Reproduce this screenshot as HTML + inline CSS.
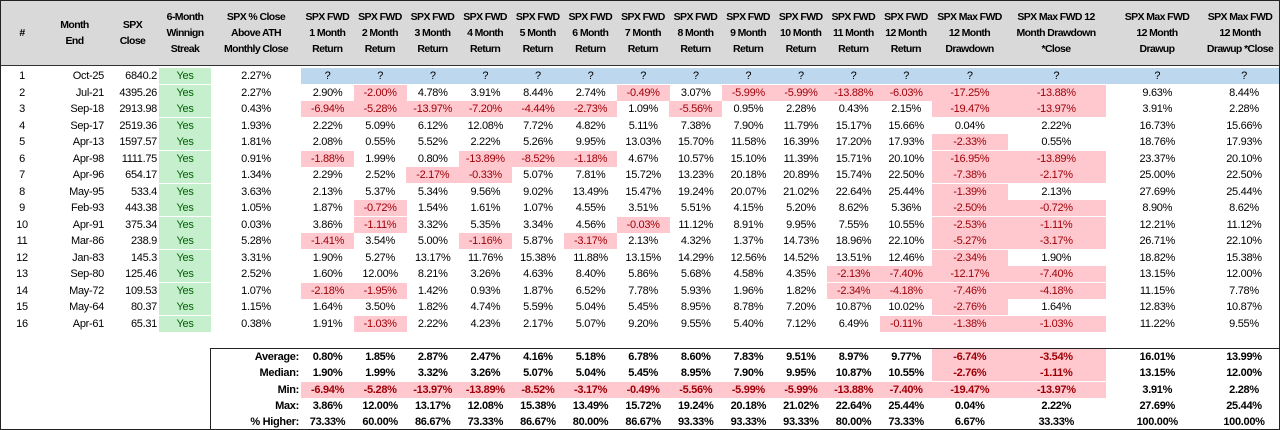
<!DOCTYPE html>
<html><head><meta charset="utf-8"><style>
body{margin:0;background:#fff;}
#wrap{position:relative;width:1278px;height:428px;border:1px solid #222;overflow:hidden;font-family:"Liberation Sans",sans-serif;font-size:11px;color:#000;letter-spacing:-0.3px;}
#hdr{position:absolute;left:0;top:0;width:1278px;height:64px;background:#d9d9d9;border-bottom:1px solid #333;}
.c{position:absolute;white-space:nowrap;line-height:16px;height:16px;}
.h{position:absolute;display:flex;align-items:center;justify-content:center;text-align:center;font-weight:bold;line-height:16px;height:64px;top:0;white-space:nowrap;letter-spacing:-0.6px;font-size:10.5px;}
.pk{background:#ffc7ce;color:#9c0006;}
.gr{background:#c6efce;color:#006100;}
#box{position:absolute;left:209px;top:347px;width:1070px;height:82px;border:1px solid #222;box-sizing:border-box;}
</style></head><body>
<div id="wrap">
<div id="hdr"></div>
<div id="box"></div>
</div>
<script>
const headers=["#","Month<br>End","SPX<br>Close","6-Month<br>Winnign<br>Streak","SPX % Close<br>Above ATH<br>Monthly Close","SPX FWD<br>1 Month<br>Return","SPX FWD<br>2 Month<br>Return","SPX FWD<br>3 Month<br>Return","SPX FWD<br>4 Month<br>Return","SPX FWD<br>5 Month<br>Return","SPX FWD<br>6 Month<br>Return","SPX FWD<br>7 Month<br>Return","SPX FWD<br>8 Month<br>Return","SPX FWD<br>9 Month<br>Return","SPX FWD<br>10 Month<br>Return","SPX FWD<br>11 Month<br>Return","SPX FWD<br>12 Month<br>Return","SPX Max FWD<br>12 Month<br>Drawdown","SPX Max FWD 12<br>Month Drawdown<br>*Close","SPX Max FWD<br>12 Month<br>Drawup","SPX Max FWD<br>12 Month<br>Drawup *Close"];
const months=["Oct-25","Jul-21","Sep-18","Sep-17","Apr-13","Apr-98","Apr-96","May-95","Feb-93","Apr-91","Mar-86","Jan-83","Sep-80","May-72","May-64","Apr-61"];
const closes=["6840.2","4395.26","2913.98","2519.36","1597.57","1111.75","654.17","533.4","443.38","375.34","238.9","145.3","125.46","109.53","80.37","65.31"];
const athPct=["2.27%","2.27%","0.43%","1.93%","1.81%","0.91%","1.34%","3.63%","1.05%","0.03%","5.28%","3.31%","2.52%","1.07%","1.15%","0.38%"];
const fwd=[
["?","?","?","?","?","?","?","?","?","?","?","?","?","?","?","?"],
["2.90%","-2.00%","4.78%","3.91%","8.44%","2.74%","-0.49%","3.07%","-5.99%","-5.99%","-13.88%","-6.03%","-17.25%","-13.88%","9.63%","8.44%"],
["-6.94%","-5.28%","-13.97%","-7.20%","-4.44%","-2.73%","1.09%","-5.56%","0.95%","2.28%","0.43%","2.15%","-19.47%","-13.97%","3.91%","2.28%"],
["2.22%","5.09%","6.12%","12.08%","7.72%","4.82%","5.11%","7.38%","7.90%","11.79%","15.17%","15.66%","0.04%","2.22%","16.73%","15.66%"],
["2.08%","0.55%","5.52%","2.22%","5.26%","9.95%","13.03%","15.70%","11.58%","16.39%","17.20%","17.93%","-2.33%","0.55%","18.76%","17.93%"],
["-1.88%","1.99%","0.80%","-13.89%","-8.52%","-1.18%","4.67%","10.57%","15.10%","11.39%","15.71%","20.10%","-16.95%","-13.89%","23.37%","20.10%"],
["2.29%","2.52%","-2.17%","-0.33%","5.07%","7.81%","15.72%","13.23%","20.18%","20.89%","15.74%","22.50%","-7.38%","-2.17%","25.00%","22.50%"],
["2.13%","5.37%","5.34%","9.56%","9.02%","13.49%","15.47%","19.24%","20.07%","21.02%","22.64%","25.44%","-1.39%","2.13%","27.69%","25.44%"],
["1.87%","-0.72%","1.54%","1.61%","1.07%","4.55%","3.51%","5.51%","4.15%","5.20%","8.62%","5.36%","-2.50%","-0.72%","8.90%","8.62%"],
["3.86%","-1.11%","3.32%","5.35%","3.34%","4.56%","-0.03%","11.12%","8.91%","9.95%","7.55%","10.55%","-2.53%","-1.11%","12.21%","11.12%"],
["-1.41%","3.54%","5.00%","-1.16%","5.87%","-3.17%","2.13%","4.32%","1.37%","14.73%","18.96%","22.10%","-5.27%","-3.17%","26.71%","22.10%"],
["1.90%","5.27%","13.17%","11.76%","15.38%","11.88%","13.15%","14.29%","12.56%","14.52%","13.51%","12.46%","-2.34%","1.90%","18.82%","15.38%"],
["1.60%","12.00%","8.21%","3.26%","4.63%","8.40%","5.86%","5.68%","4.58%","4.35%","-2.13%","-7.40%","-12.17%","-7.40%","13.15%","12.00%"],
["-2.18%","-1.95%","1.42%","0.93%","1.87%","6.52%","7.78%","5.93%","1.96%","1.82%","-2.34%","-4.18%","-7.46%","-4.18%","11.15%","7.78%"],
["1.64%","3.50%","1.82%","4.74%","5.59%","5.04%","5.45%","8.95%","8.78%","7.20%","10.87%","10.02%","-2.76%","1.64%","12.83%","10.87%"],
["1.91%","-1.03%","2.22%","4.23%","2.17%","5.07%","9.20%","9.55%","5.40%","7.12%","6.49%","-0.11%","-1.38%","-1.03%","11.22%","9.55%"]];
const sumLabels=["Average:","Median:","Min:","Max:","% Higher:"];
const sumVals=[
["0.80%","1.85%","2.87%","2.47%","4.16%","5.18%","6.78%","8.60%","7.83%","9.51%","8.97%","9.77%","-6.74%","-3.54%","16.01%","13.99%"],
["1.90%","1.99%","3.32%","3.26%","5.07%","5.04%","5.45%","8.95%","7.90%","9.95%","10.87%","10.55%","-2.76%","-1.11%","13.15%","12.00%"],
["-6.94%","-5.28%","-13.97%","-13.89%","-8.52%","-3.17%","-0.49%","-5.56%","-5.99%","-5.99%","-13.88%","-7.40%","-19.47%","-13.97%","3.91%","2.28%"],
["3.86%","12.00%","13.17%","12.08%","15.38%","13.49%","15.72%","19.24%","20.18%","21.02%","22.64%","25.44%","0.04%","2.22%","27.69%","25.44%"],
["73.33%","60.00%","86.67%","73.33%","86.67%","80.00%","86.67%","93.33%","93.33%","93.33%","80.00%","73.33%","6.67%","33.33%","100.00%","100.00%"]];

const W=document.getElementById('wrap');
const cols=[[0,42],[42,63],[105,53],[158,52],[210,90]];
for(let i=0;i<12;i++)cols.push([300+i*52.6,52.6]);
cols.push([931,75],[1006,98],[1104,104],[1208,70]);
function cell(x,y,w,txt,cls,align,bold,name){
  const d=document.createElement('div');
  d.className='c '+(cls||'');
  d.style.left=x+'px';d.style.top=y+'px';d.style.width=w+'px';
  d.style.textAlign=align||'center';
  if(align==='right'){d.style.paddingRight='2px';d.style.boxSizing='border-box';}
  if(bold)d.style.fontWeight='bold';
  d.textContent=txt;
  
  
  W.appendChild(d);return d;
}
headers.forEach((h,i)=>{
  const d=document.createElement('div');d.className='h';
  let x=cols[i][0],w=cols[i][1];
  if(i===20){x=1200;w=78;}
  d.style.left=x+'px';d.style.width=w+'px';d.innerHTML=h;
  
  
  W.appendChild(d);
});
const y0=67,rh=16.5;
months.forEach((m,r)=>{
  const y=y0+r*rh;
  cell(cols[0][0],y,cols[0][1],String(r+1),'','center',false,'row-number');
  cell(cols[1][0],y,cols[1][1],m,'','right',false,'month-end');
  cell(cols[2][0],y,cols[2][1],closes[r],'','right',false,'spx-close');
  cell(cols[3][0],y,cols[3][1],'Yes','gr','center',false,'streak-yes');
  cell(cols[4][0],y,cols[4][1],athPct[r],'','center',false,'ath-pct');
  fwd[r].forEach((v,j)=>{
    const c=cols[5+j];
    const d=cell(c[0],y,c[1]+(j<15?0.5:0),v,v==='?'?'':(v[0]==='-'?'pk':''),'center',false,'return-cell');
    if(v==='?')d.style.background='#bdd7ee';
  });
});
const sy=[348,364.3,380.6,397,413.3];
sumLabels.forEach((l,r)=>{
  cell(212,sy[r],88,l,'','right',true,'summary-label');
  sumVals[r].forEach((v,j)=>{
    const c=cols[5+j];
    cell(c[0],sy[r],c[1]+(j<15?0.5:0),v,v[0]==='-'?'pk':'','center',true,'summary-value');
  });
});
</script>
</body></html>
